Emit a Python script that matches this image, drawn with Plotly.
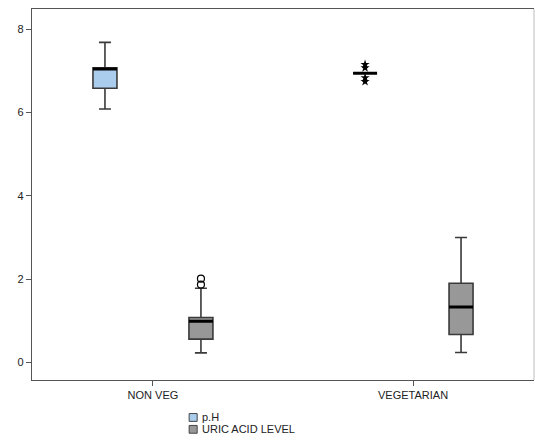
import plotly.graph_objects as go

categories = ["NON VEG", "VEGETARIAN"]

# p.H box stats per category
ph_low = [6.08, 6.94]
ph_q1 = [6.58, 6.94]
ph_med = [7.04, 6.94]
ph_q3 = [7.07, 6.94]
ph_high = [7.68, 6.94]

# Uric acid level stats per category
ua_low = [0.23, 0.24]
ua_q1 = [0.56, 0.67]
ua_med = [0.99, 1.33]
ua_q3 = [1.08, 1.90]
ua_high = [1.78, 3.00]

# outliers
ua_out_cat = ["NON VEG", "NON VEG"]
ua_out_val = [2.01, 1.87]
ph_ext_cat = ["VEGETARIAN"] * 4
ph_ext_val = [7.15, 7.07, 6.83, 6.74]

yticks = [0, 2, 4, 6, 8]
legend_names = ["p.H", "URIC ACID LEVEL"]

PH_FILL = "#AACDEE"
UA_FILL = "#989898"
EDGE = "#3a3a3a"

fig = go.Figure()

def add_box(name, group, low, q1, med, q3, high, fill):
    fig.add_trace(go.Box(
        x=categories, lowerfence=low, q1=q1, median=med, q3=q3, upperfence=high,
        name=name, offsetgroup=group, fillcolor=fill,
        line=dict(color=EDGE, width=1.6), whiskerwidth=0.5,
        showlegend=False, hoverinfo="skip",
    ))
    # thick black median line
    fig.add_trace(go.Box(
        x=categories, lowerfence=med, q1=med, median=med, q3=med, upperfence=med,
        name=name, offsetgroup=group, fillcolor="rgba(0,0,0,0)",
        line=dict(color="black", width=3), whiskerwidth=0,
        showlegend=False, hoverinfo="skip",
    ))

add_box(legend_names[0], "ph", ph_low, ph_q1, ph_med, ph_q3, ph_high, PH_FILL)
add_box(legend_names[1], "ua", ua_low, ua_q1, ua_med, ua_q3, ua_high, UA_FILL)

fig.add_trace(go.Scatter(
    x=ph_ext_cat, y=ph_ext_val, mode="markers", offsetgroup="ph",
    marker=dict(symbol="star", size=7, color="black", line=dict(width=0)),
    showlegend=False, hoverinfo="skip",
))
fig.add_trace(go.Scatter(
    x=ua_out_cat, y=ua_out_val, mode="markers", offsetgroup="ua",
    marker=dict(symbol="circle-open", size=7, color="black", line=dict(width=1.2)),
    showlegend=False, hoverinfo="skip",
))

FONT = "Liberation Sans, Arial, sans-serif"

# manual compact legend (below plot)
shapes = [dict(type="line", xref="paper", yref="paper", x0=1, x1=1, y0=0, y1=1,
               line=dict(color="#bbbbbb", width=1))]
annotations = []
legend_fills = [PH_FILL, UA_FILL]
row_y = [-0.101, -0.133]
for name, fill, yc in zip(legend_names, legend_fills, row_y):
    shapes.append(dict(type="rect", xref="paper", yref="paper",
                       x0=0.313, x1=0.329, y0=yc - 0.0105, y1=yc + 0.0105,
                       fillcolor=fill, line=dict(color="#444", width=1)))
    annotations.append(dict(xref="paper", yref="paper", x=0.334, y=yc,
                            xanchor="left", yanchor="middle", text=name, showarrow=False,
                            font=dict(family=FONT, size=11, color="#222")))

fig.update_layout(
    width=535, height=441,
    margin=dict(l=32, r=1, t=9, b=61),
    paper_bgcolor="white", plot_bgcolor="white",
    boxmode="group", boxgap=0.262, boxgroupgap=0.75,
    scattermode="group", scattergap=0.262,
    font=dict(family=FONT, size=11, color="#222"),
    showlegend=False,
    xaxis=dict(
        type="category", range=[-0.465, 1.465],
        showline=True, linecolor="#555", linewidth=1.2, mirror=True,
        ticks="outside", ticklen=5, tickcolor="#555",
        showgrid=False, zeroline=False,
        tickfont=dict(family=FONT, size=11, color="#222"),
    ),
    yaxis=dict(
        range=[-0.42, 8.48], tickvals=yticks, ticktext=[str(v) for v in yticks],
        showline=True, linecolor="#555", linewidth=1.2,
        ticks="outside", ticklen=5, tickcolor="#555",
        showgrid=False, zeroline=False,
        tickfont=dict(family=FONT, size=11, color="#222"),
    ),
    shapes=shapes,
    annotations=annotations,
)

fig.write_html(
    "out.html",
    config={"displayModeBar": False},
    post_script="document.body.style.margin='0px';document.body.style.overflow='hidden';",
)
